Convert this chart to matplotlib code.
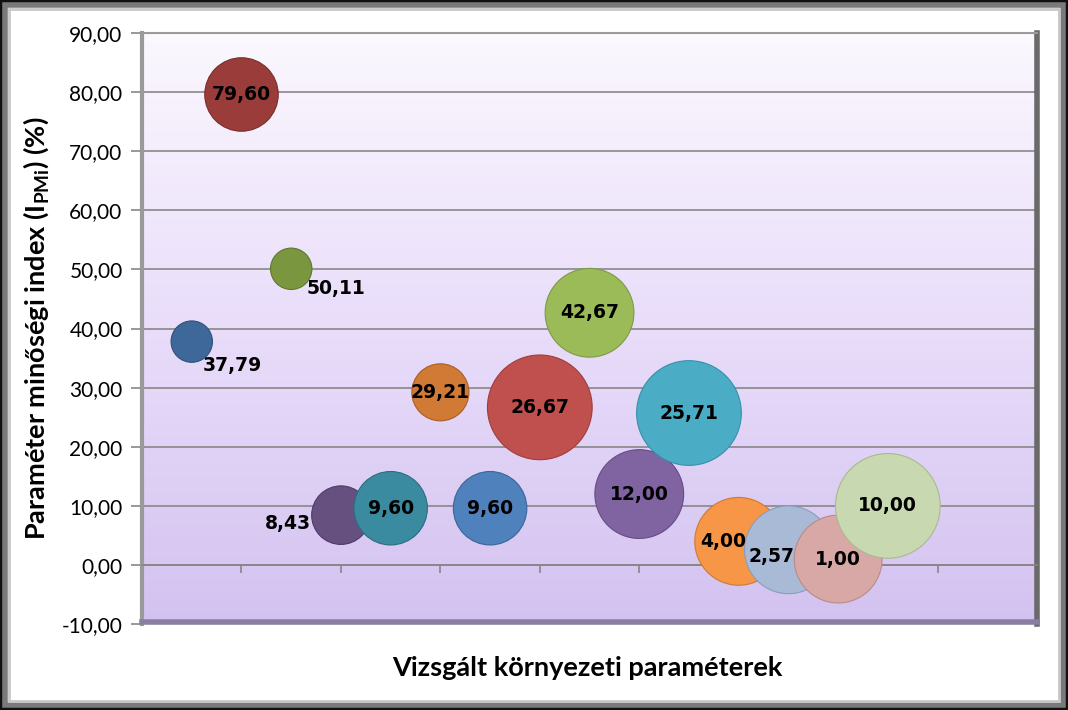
import matplotlib
matplotlib.use("Agg")
import matplotlib.pyplot as plt
import numpy as np
from matplotlib.patches import Rectangle
from matplotlib.ticker import FuncFormatter, MultipleLocator
from matplotlib.colors import LinearSegmentedColormap

# ---- data ----
x_pos = [1, 2, 3, 4, 5, 6, 7, 8, 9, 10, 11, 12, 13, 14, 15]
values = [37.79, 79.60, 50.11, 8.43, 9.60, 29.21, 9.60, 26.67, 42.67, 12.00, 25.71, 4.00, 2.57, 1.00, 10.00]
bubble = [1.0, 3.15, 1.0, 2.0, 3.15, 1.9, 3.15, 6.4, 4.6, 4.6, 6.4, 4.5, 4.5, 4.5, 6.4]
labels = ["37,79", "79,60", "50,11", "8,43", "9,60", "29,21", "9,60", "26,67", "42,67",
          "12,00", "25,71", "4,00", "2,57", "1,00", "10,00"]
colors = ["#3D6899", "#9A3C3A", "#7A963F", "#65507F", "#3A8AA0", "#D07A36", "#4F81BD",
          "#C0504D", "#9BBB59", "#8064A2", "#4BACC6", "#F79646", "#A9BAD6", "#D8A8A7", "#C8D8B0"]
edge = ["#2F527A", "#7A2E2C", "#5E7830", "#4E3C66", "#2B6D80", "#A85F26", "#3A6699",
        "#9E3E3B", "#7E9A45", "#654D85", "#3690A8", "#D07A30", "#8A9CBC", "#BA8A89", "#A8BA90"]
y_ticks = [-10, 0, 10, 20, 30, 40, 50, 60, 70, 80, 90]

# label placement (offset in points): center for most
offsets = {0: (29, -17), 2: (32, -14), 3: (-38, -6), 11: (-11, 0), 12: (-12, -5)}

plt.rcParams['font.family'] = ['Lato', 'DejaVu Sans']
plt.rcParams['mathtext.fontset'] = 'custom'
plt.rcParams['mathtext.rm'] = 'Lato:bold'
plt.rcParams['mathtext.bf'] = 'Lato:bold'

fig = plt.figure(figsize=(10.68, 7.10), dpi=100)
fig.patch.set_facecolor("white")

# outer frame
fig.add_artist(Rectangle((0, 0), 1, 1, transform=fig.transFigure, fill=False,
                         edgecolor="#111111", lw=6, zorder=10))
fig.add_artist(Rectangle((0.0045, 0.007), 0.991, 0.986, transform=fig.transFigure, fill=False,
                         edgecolor="#7a7a7a", lw=4, zorder=10))
fig.add_artist(Rectangle((0.0085, 0.0125), 0.983, 0.975, transform=fig.transFigure, fill=False,
                         edgecolor="#c8c8c8", lw=2, zorder=10))

ax = fig.add_axes([0.133, 0.121, 0.838, 0.8325])
ax.set_xlim(0, 18)
ax.set_ylim(-10, 90)

# gradient background
grad = np.linspace(0, 1, 256).reshape(-1, 1)
cmap = LinearSegmentedColormap.from_list("bg", ["#D3C2F0", "#E9DDFA", "#FBF8FE"])
ax.imshow(grad, cmap=cmap, extent=[0, 1, 0, 1], transform=ax.transAxes,
          aspect="auto", origin="lower", zorder=0)

ax.set_yticks(y_ticks)
ax.yaxis.set_major_formatter(FuncFormatter(lambda v, p: f"{v:.2f}".replace(".", ",")))
ax.grid(axis="y", color="#878787", lw=1.2, zorder=1)
ax.set_axisbelow(True)
ax.tick_params(axis="y", labelsize=15, length=8, color="#878787", width=1.2, pad=6)

ax.xaxis.set_major_locator(MultipleLocator(2))
ax.tick_params(axis="x", labelbottom=False, length=6, color="#878787", width=1.2, direction="out")
ax.spines["bottom"].set_position(("data", 0))
ax.spines["bottom"].set_color("#878787")
ax.spines["bottom"].set_linewidth(1.2)
ax.spines["top"].set_color("#9a9a9a")
ax.spines["left"].set_color("#9a9a9a")
ax.spines["left"].set_linewidth(3)
ax.spines["right"].set_color("#6a6a6a")
ax.spines["right"].set_linewidth(4)
ax.spines["top"].set_linewidth(1.5)

# bottom bevel
ax.plot([0, 1], [0.003, 0.003], transform=ax.transAxes, color="#8a7fa0", lw=4, zorder=5, clip_on=False)

k = 888
ax.scatter(x_pos, values, s=[b * k for b in bubble], c=colors, edgecolors=edge,
           linewidths=0.8, zorder=3, alpha=1)

for i, (xv, yv, lab) in enumerate(zip(x_pos, values, labels)):
    dx, dy = offsets.get(i, (0, 0))
    ax.annotate(lab, (xv, yv), xytext=(dx, dy), textcoords="offset points",
                ha="center", va="center", fontsize=13.5, fontweight="bold",
                family="DejaVu Sans", zorder=4)

fig.text(587 / 1068, 1 - 668 / 710, "Vizsgált környezeti paraméterek", fontsize=19.5,
         fontweight="bold", ha="center", va="center")
ax.set_ylabel(r"Paraméter minőségi index (I$_{\mathrm{PMi}}$) (%)", fontsize=19.5,
              fontweight="bold", labelpad=8)

fig.savefig("out.png", dpi=100)
